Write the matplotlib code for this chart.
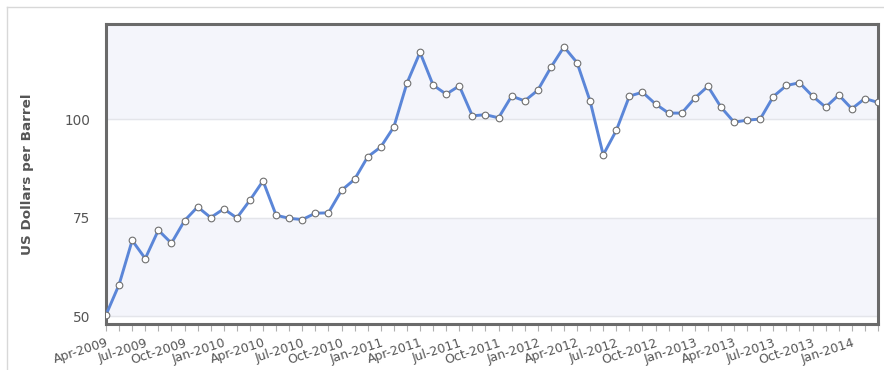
import numpy as np
import pandas as pd
import matplotlib
matplotlib.use('Agg')
import matplotlib.pyplot as plt
from matplotlib.lines import Line2D

# monthly crude price, Apr-2009 .. Mar-2014
months = pd.date_range('2009-04-01', periods=60, freq='MS').strftime('%b-%Y').tolist()
prices = [50.3, 58.0, 69.2, 64.6, 71.8, 68.5, 74.2, 77.7, 75.0, 77.2,
          74.9, 79.4, 84.3, 75.6, 74.8, 74.5, 76.1, 76.2, 81.9, 84.7,
          90.4, 92.9, 98.0, 109.1, 116.9, 108.6, 106.3, 108.4, 100.8, 101.1,
          100.3, 105.8, 104.6, 107.3, 113.1, 118.3, 114.3, 104.5, 90.9, 97.1,
          105.8, 106.8, 103.8, 101.5, 101.5, 105.3, 108.3, 103.0, 99.2, 99.7,
          100.0, 105.7, 108.5, 109.2, 105.8, 103.0, 106.1, 102.6, 105.2, 104.2]
yticks = [50, 75, 100]

x = np.arange(len(prices))

fig = plt.figure(figsize=(8.84, 3.70), dpi=100)
ax = fig.add_axes([106/884, 46/370, 772/884, 300/370])

# alternating bands and grid
ax.axhspan(50, 75, color='#f4f5fb', zorder=0)
ax.axhspan(100, 130, color='#f4f5fb', zorder=0)
for v in yticks:
    ax.axhline(v, color='#e4e5ea', lw=1, zorder=1)

ax.plot(x, prices, color='#5b86d8', lw=2.1, zorder=3, solid_joinstyle='round',
        marker='o', ms=4.8, mfc='white', mec='#707070', mew=0.8)

ax.set_xlim(0, len(prices) - 1)
ax.set_ylim(48, 124.1)
ax.set_yticks(yticks)
ax.set_xticks(x[::3])
ax.set_xticklabels(months[::3], rotation=18, ha='right', rotation_mode='anchor')
ax.set_xticks(x, minor=True)
ax.tick_params(axis='y', length=0, pad=11, labelsize=9.8, labelcolor='#555555')
ax.tick_params(axis='x', which='both', length=5, color='#b0b0b0', width=0.8,
               labelsize=9, labelcolor='#555555', pad=4)
ax.set_ylabel('US Dollars per Barrel', fontsize=9.7, fontweight='bold',
              color='#555555', labelpad=22)

for s in ax.spines.values():
    s.set_color('#6a6a6a')
    s.set_linewidth(2.2)

# light outer frame
fig.add_artist(Line2D([7/884, 7/884], [0, 1 - 7/370], color='#d8d8d8', lw=1))
fig.add_artist(Line2D([7/884, 1], [1 - 7/370, 1 - 7/370], color='#d8d8d8', lw=1))

fig.savefig('out.png', dpi=100)
